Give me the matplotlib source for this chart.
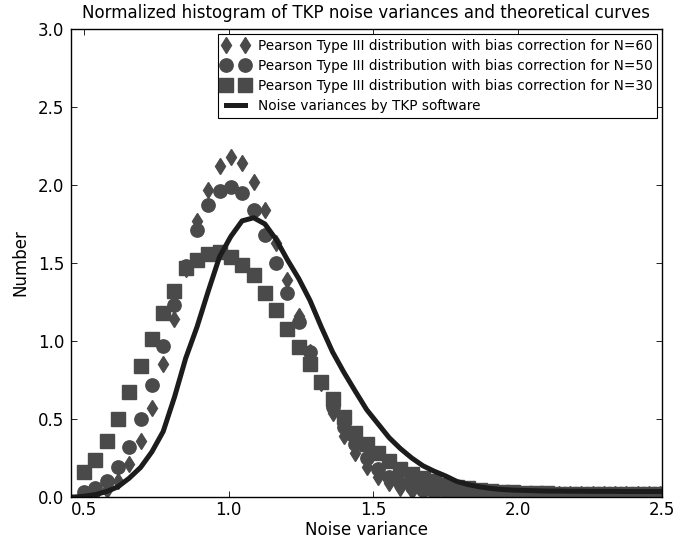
import matplotlib
matplotlib.use("Agg")
import matplotlib.pyplot as plt

# ---- data ----
x_grid = [0.500, 0.539, 0.578, 0.617, 0.656, 0.696, 0.735, 0.774, 0.813, 0.852,
          0.891, 0.930, 0.969, 1.008, 1.047, 1.087, 1.126, 1.165, 1.204, 1.243,
          1.282, 1.321, 1.360, 1.399, 1.438, 1.478, 1.517, 1.556, 1.595, 1.634,
          1.673, 1.712, 1.751, 1.790, 1.829, 1.869, 1.908, 1.947, 1.986, 2.025,
          2.064, 2.103, 2.142, 2.181, 2.220, 2.260, 2.299, 2.338, 2.377, 2.416,
          2.455, 2.494]

n60 = [0.01, 0.02, 0.045, 0.10, 0.21, 0.36, 0.57, 0.85, 1.14, 1.46,
       1.77, 1.97, 2.12, 2.18, 2.14, 2.02, 1.84, 1.63, 1.39, 1.16,
       0.93, 0.73, 0.54, 0.39, 0.28, 0.19, 0.13, 0.09, 0.06, 0.04,
       0.03, 0.025, 0.02, 0.02, 0.02, 0.02, 0.02, 0.02, 0.02, 0.02,
       0.02, 0.02, 0.02, 0.02, 0.02, 0.02, 0.02, 0.02, 0.02, 0.02,
       0.02, 0.02]

n50 = [0.03, 0.06, 0.10, 0.19, 0.32, 0.50, 0.72, 0.97, 1.23, 1.48,
       1.71, 1.87, 1.96, 1.99, 1.95, 1.84, 1.68, 1.50, 1.31, 1.12,
       0.93, 0.74, 0.58, 0.45, 0.34, 0.25, 0.18, 0.13, 0.09, 0.065,
       0.045, 0.035, 0.03, 0.025, 0.02, 0.02, 0.02, 0.02, 0.02, 0.02,
       0.02, 0.02, 0.02, 0.02, 0.02, 0.02, 0.02, 0.02, 0.02, 0.02,
       0.02, 0.02]

n30 = [0.16, 0.24, 0.36, 0.50, 0.67, 0.84, 1.01, 1.18, 1.32, 1.47,
       1.52, 1.56, 1.57, 1.54, 1.49, 1.42, 1.31, 1.20, 1.08, 0.96,
       0.85, 0.74, 0.63, 0.51, 0.41, 0.34, 0.28, 0.23, 0.18, 0.15,
       0.12, 0.10, 0.08, 0.065, 0.055, 0.045, 0.04, 0.035, 0.03, 0.028,
       0.025, 0.025, 0.02, 0.02, 0.02, 0.02, 0.02, 0.02, 0.02, 0.02,
       0.02, 0.02]

x_tkp = [0.455, 0.467] + x_grid + [2.500]
tkp = [0.0, 0.0,
       0.005, 0.015, 0.035, 0.065, 0.12, 0.19, 0.29, 0.42, 0.64, 0.89,
       1.09, 1.32, 1.54, 1.67, 1.77, 1.79, 1.75, 1.65, 1.52, 1.40,
       1.26, 1.09, 0.93, 0.80, 0.68, 0.56, 0.47, 0.38, 0.31, 0.25,
       0.20, 0.165, 0.135, 0.10, 0.08, 0.065, 0.055, 0.048, 0.044, 0.042,
       0.040, 0.038, 0.038, 0.037, 0.037, 0.036, 0.036, 0.036, 0.035, 0.035,
       0.035, 0.035,
       0.035]

labels = ["Pearson Type III distribution with bias correction for N=60",
          "Pearson Type III distribution with bias correction for N=50",
          "Pearson Type III distribution with bias correction for N=30",
          "Noise variances by TKP software"]
x_ticks = [0.5, 1.0, 1.5, 2.0, 2.5]
y_ticks = [0.0, 0.5, 1.0, 1.5, 2.0, 2.5, 3.0]

mcol = "#4a4a4a"
fig = plt.figure(figsize=(6.75, 5.42), dpi=100)
ax = fig.add_axes([71 / 675, 45 / 542, 591 / 675, 468 / 542])

ax.plot(x_grid, n60, linestyle="none", marker="d", markersize=7.8,
        color=mcol, markeredgecolor=mcol, label=labels[0])
ax.plot(x_grid, n50, linestyle="none", marker="o", markersize=9.6,
        color=mcol, markeredgecolor=mcol, label=labels[1])
ax.plot(x_grid, n30, linestyle="none", marker="s", markersize=9.4,
        color=mcol, markeredgecolor=mcol, label=labels[2])
ax.plot(x_tkp, tkp, color="#1c1c1c", linewidth=3.6, label=labels[3])

ax.set_xlim(0.455, 2.5)
ax.set_ylim(0.0, 3.0)
ax.set_xticks(x_ticks)
ax.set_yticks(y_ticks)
ax.tick_params(direction="in", top=True, right=True, length=4, width=0.6,
               labelsize=12)
ax.tick_params(axis="x", pad=3)
ax.tick_params(axis="y", pad=5)
for s in ax.spines.values():
    s.set_linewidth(1.0)

ax.set_title("Normalized histogram of TKP noise variances and theoretical curves",
             fontsize=12, pad=8)
ax.set_xlabel("Noise variance", fontsize=12, labelpad=1.5)
ax.set_ylabel("Number", fontsize=12, labelpad=6)

leg = ax.legend(loc="upper right", fontsize=9.8, numpoints=2, fancybox=False,
                framealpha=1.0, edgecolor="black", borderaxespad=0.35,
                handlelength=2.0, labelspacing=0.45, borderpad=0.35,
                handletextpad=0.6)
leg.get_frame().set_linewidth(0.8)

fig.savefig("out.png", dpi=100)
